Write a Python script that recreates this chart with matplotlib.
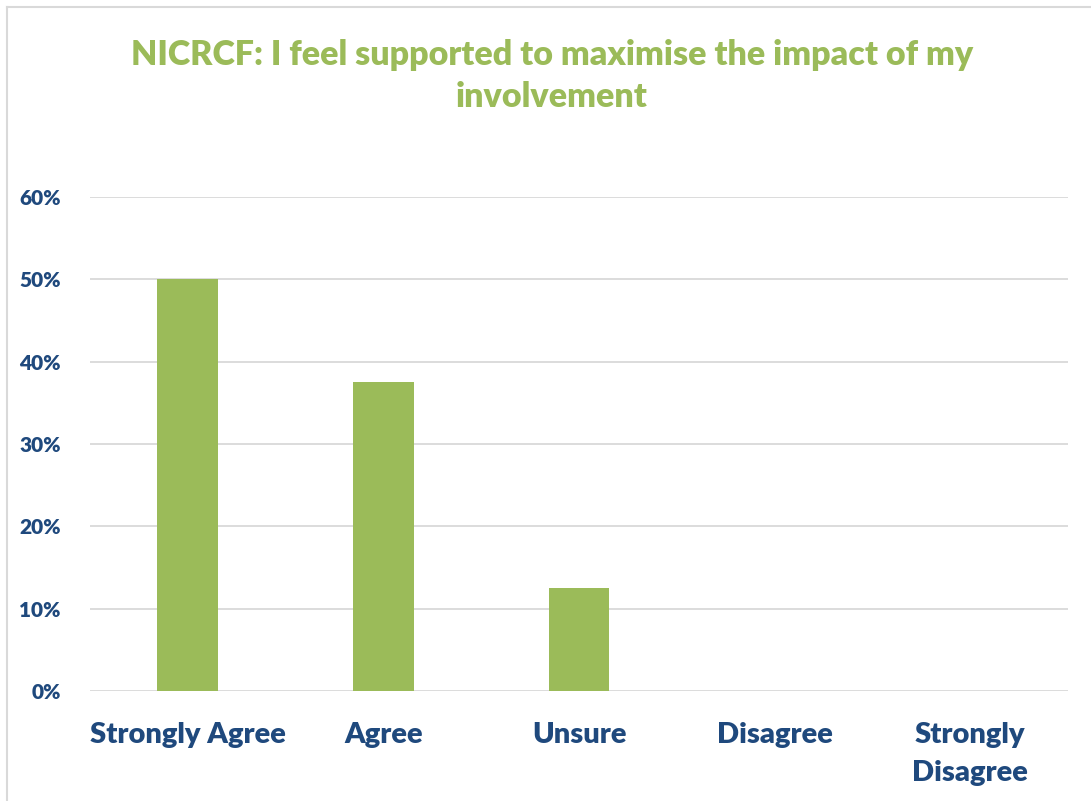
import matplotlib
matplotlib.use("Agg")
import matplotlib.pyplot as plt
from matplotlib.ticker import PercentFormatter, MultipleLocator
from matplotlib.lines import Line2D

categories = ["Strongly Agree", "Agree", "Unsure", "Disagree", "Strongly\nDisagree"]
values = [0.50, 0.375, 0.125, 0.0, 0.0]
title = "NICRCF: I feel supported to maximise the impact of my\ninvolvement"

GREEN = "#9BBB59"
BLUE = "#1F497D"
GRID = "#D9D9D9"
FONT = ["Lato", "DejaVu Sans"]
WEIGHT = "heavy"

fig = plt.figure(figsize=(10.91, 8.01), dpi=100)
ax = fig.add_axes([90/1091, 1 - 691/801, (1068-90)/1091, (691-197)/801])

x = list(range(len(categories)))
ax.bar(x, values, width=0.31, color=GREEN, zorder=3)
ax.set_xlim(-0.5, len(categories) - 0.5)
ax.set_ylim(0, 0.6)
ax.yaxis.set_major_locator(MultipleLocator(0.1))
ax.yaxis.set_major_formatter(PercentFormatter(1.0, decimals=0))
ax.grid(axis="y", color=GRID, linewidth=1.3, zorder=0)
for s in ax.spines.values():
    s.set_visible(False)
ax.tick_params(axis="both", length=0)
ax.set_xticks(x)
ax.set_xticklabels(categories, fontfamily=FONT, fontweight=WEIGHT, fontsize=21, color=BLUE, linespacing=1.6)
ax.tick_params(axis="x", pad=22)
for lbl in ax.get_yticklabels():
    lbl.set_fontfamily(FONT)
    lbl.set_fontweight(WEIGHT)
    lbl.set_fontsize(15)
    lbl.set_color(BLUE)
ax.tick_params(axis="y", pad=21)
for lbl in ax.get_xticklabels():
    lbl.set_verticalalignment("top")

fig.text(552/1091, 1 - 76/801, title, ha="center", va="center", fontfamily=FONT,
         fontweight=WEIGHT, fontsize=24.5, color=GREEN, linespacing=1.42)

fig.add_artist(Line2D([7/1091, 7/1091], [0, 1 - 7/801], transform=fig.transFigure, color=GRID, lw=1.5))
fig.add_artist(Line2D([7/1091, 1], [1 - 7/801, 1 - 7/801], transform=fig.transFigure, color=GRID, lw=1.5))

fig.savefig("out.png", dpi=100)
